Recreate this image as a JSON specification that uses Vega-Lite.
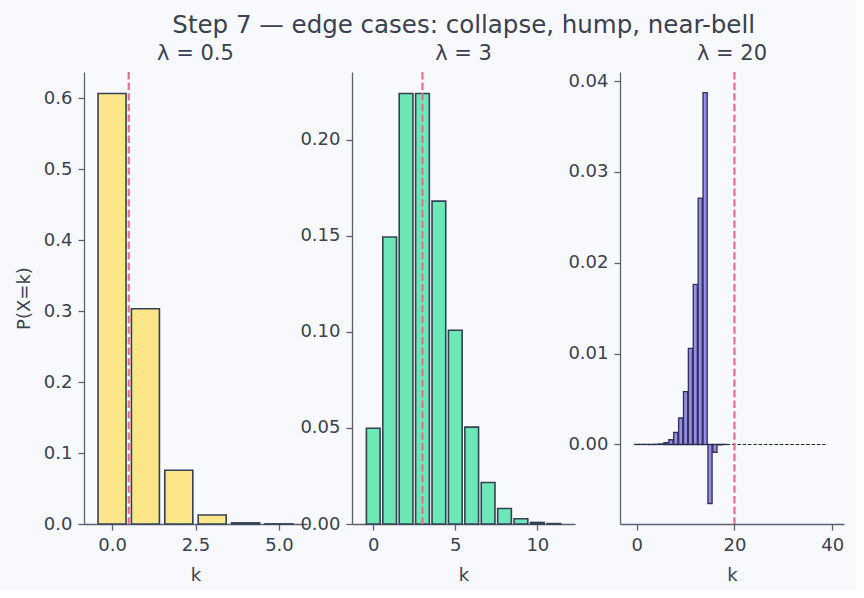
{
  "$schema": "https://vega.github.io/schema/vega-lite/v6.json",
  "background": "#f8f9fc",
  "padding": {"left": 15, "top": 13, "right": 12, "bottom": 6},
  "title": {
    "text": "Step 7 — edge cases: collapse, hump, near-bell",
    "fontSize": 24.5,
    "anchor": "middle",
    "dx": 34,
    "offset": 4
  },
  "datasets": {
    "lam05": [
      {"k": 0, "p": 0.60653},
      {"k": 1, "p": 0.30327},
      {"k": 2, "p": 0.07582},
      {"k": 3, "p": 0.01264},
      {"k": 4, "p": 0.00158},
      {"k": 5, "p": 0.00016}
    ],
    "lam3": [
      {"k": 0, "p": 0.04979},
      {"k": 1, "p": 0.14936},
      {"k": 2, "p": 0.22404},
      {"k": 3, "p": 0.22404},
      {"k": 4, "p": 0.16803},
      {"k": 5, "p": 0.10082},
      {"k": 6, "p": 0.05041},
      {"k": 7, "p": 0.0216},
      {"k": 8, "p": 0.0081},
      {"k": 9, "p": 0.0027},
      {"k": 10, "p": 0.00081},
      {"k": 11, "p": 0.00022}
    ],
    "lam20": [
      {"k": 0, "p": 0.000000002},
      {"k": 1, "p": 0.00000004},
      {"k": 2, "p": 0.0000004},
      {"k": 3, "p": 0.0000027},
      {"k": 4, "p": 0.0000137},
      {"k": 5, "p": 0.000055},
      {"k": 6, "p": 0.000183},
      {"k": 7, "p": 0.000523},
      {"k": 8, "p": 0.001309},
      {"k": 9, "p": 0.002908},
      {"k": 10, "p": 0.005816},
      {"k": 11, "p": 0.010574},
      {"k": 12, "p": 0.017624},
      {"k": 13, "p": 0.027114},
      {"k": 14, "p": 0.038734},
      {"k": 15, "p": -0.006503},
      {"k": 16, "p": -0.000859},
      {"k": 17, "p": -0.000049},
      {"k": 18, "p": -0.000001}
    ]
  },
  "spacing": 45,
  "bounds": "flush",
  "hconcat": [
    {
      "width": 223,
      "height": 452,
      "title": "λ = 0.5",
      "layer": [
        {
          "data": {"name": "lam05"},
          "mark": {"type": "bar", "width": 28, "fill": "#fde68a", "stroke": "#334155", "strokeWidth": 1.6},
          "encoding": {
            "x": {"field": "k", "type": "quantitative",
                  "scale": {"domain": [-0.69, 5.69], "nice": false, "zero": false},
                  "axis": {"values": [0, 2.5, 5], "format": ".1f", "title": "k"}},
            "y": {"field": "p", "type": "quantitative",
                  "scale": {"domain": [0, 0.6368], "nice": false},
                  "axis": {"values": [0, 0.1, 0.2, 0.3, 0.4, 0.5, 0.6], "format": ".1f", "title": "P(X=k)"}}
          }
        },
        {
          "data": {"values": [{"lam": 0.5}]},
          "mark": {"type": "rule", "color": "#ec6d8b", "strokeWidth": 2.2, "strokeDash": [7.4, 3.2]},
          "encoding": {"x": {"field": "lam", "type": "quantitative"}}
        }
      ]
    },
    {
      "width": 223,
      "height": 452,
      "title": "λ = 3",
      "layer": [
        {
          "data": {"name": "lam3"},
          "mark": {"type": "bar", "width": 13.7, "fill": "#6ee7b7", "stroke": "#334155", "strokeWidth": 1.6},
          "encoding": {
            "x": {"field": "k", "type": "quantitative",
                  "scale": {"domain": [-0.99, 11.99], "nice": false, "zero": false},
                  "axis": {"values": [0, 5, 10], "format": "d", "title": "k"}},
            "y": {"field": "p", "type": "quantitative",
                  "scale": {"domain": [0, 0.2352], "nice": false},
                  "axis": {"values": [0, 0.05, 0.1, 0.15, 0.2], "format": ".2f", "title": null}}
          }
        },
        {
          "data": {"values": [{"lam": 3}]},
          "mark": {"type": "rule", "color": "#ec6d8b", "strokeWidth": 2.2, "strokeDash": [7.4, 3.2]},
          "encoding": {"x": {"field": "lam", "type": "quantitative"}}
        }
      ]
    },
    {
      "width": 224,
      "height": 452,
      "title": "λ = 20",
      "layer": [
        {
          "data": {"name": "lam20"},
          "mark": {"type": "bar", "width": 4.1, "fill": "#968ee8", "stroke": "#34355f", "strokeWidth": 1.4},
          "encoding": {
            "x": {"field": "k", "type": "quantitative",
                  "scale": {"domain": [-2.39, 41.39], "nice": false, "zero": false},
                  "axis": {"values": [0, 20, 40], "format": "d", "title": "k"}},
            "y": {"field": "p", "type": "quantitative",
                  "scale": {"domain": [-0.00876, 0.041], "nice": false, "zero": false},
                  "axis": {"values": [0, 0.01, 0.02, 0.03, 0.04], "format": ".2f", "title": null}}
          }
        },
        {
          "data": {"values": [{"k0": 0, "k1": 39, "p": 0}]},
          "mark": {"type": "rule", "color": "#1e293b", "strokeWidth": 1.1, "strokeDash": [3.5, 1.8]},
          "encoding": {
            "x": {"field": "k0", "type": "quantitative"},
            "x2": {"field": "k1"},
            "y": {"field": "p", "type": "quantitative"}
          }
        },
        {
          "data": {"values": [{"lam": 20}]},
          "mark": {"type": "rule", "color": "#ec6d8b", "strokeWidth": 2.2, "strokeDash": [7.4, 3.2]},
          "encoding": {"x": {"field": "lam", "type": "quantitative"}}
        }
      ]
    }
  ],
  "config": {
    "font": "DejaVu Sans",
    "view": {"stroke": null},
    "axis": {
      "domainColor": "#5b6170",
      "domainWidth": 1.3,
      "tickColor": "#5b6170",
      "tickWidth": 1.3,
      "tickSize": 6,
      "labelColor": "#3a4150",
      "labelFont": "DejaVu Sans",
      "labelFontSize": 18,
      "labelPadding": 6,
      "labelFlush": false,
      "labelOverlap": false,
      "titleColor": "#3a4150",
      "titleFont": "DejaVu Sans",
      "titleFontSize": 18,
      "titleFontWeight": "normal",
      "grid": false
    },
    "axisY": {"titlePadding": 10},
    "axisX": {"titlePadding": 12},
    "title": {"font": "DejaVu Sans", "fontSize": 21, "fontWeight": "normal", "color": "#3a4150", "offset": 7}
  }
}
